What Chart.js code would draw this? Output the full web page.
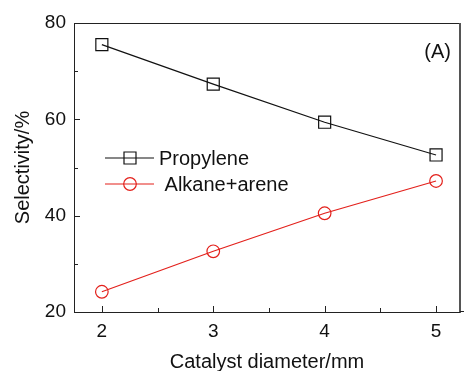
<!DOCTYPE html>
<html>
<head>
<meta charset="utf-8">
<script src="https://cdn.jsdelivr.net/npm/chart.js@4/dist/chart.umd.min.js"></script>
<style>
  html, body { margin: 0; padding: 0; background: #fff; }
  #wrap { width: 464px; height: 371px; position: relative; }
</style>
</head>
<body>
<div id="wrap"><canvas id="c" width="464" height="371"></canvas></div>
<script>
const diameters = [2, 3, 4, 5];
const propylene = [75.5, 67.3, 59.4, 52.6];
const alkaneArene = [24.2, 32.6, 40.5, 47.2];
const xTicks = [2, 3, 4, 5];
const xMinorTicks = [2.5, 3.5, 4.5];
const yTicks = [20, 40, 60, 80];
const yMinorTicks = [30, 50, 70];
const seriesNames = ['Propylene', ' Alkane+arene'];
const panelLabel = '(A)';
const xTitle = 'Catalyst diameter/mm';
const yTitle = 'Selectivity/%';

const BLACK = '#111111';
const RED = '#e3201b';
const FONT = 'Liberation Sans, Arial, sans-serif';

const framePlugin = {
  id: 'frame',
  afterDraw(chart) {
    const ctx = chart.ctx;
    const a = chart.chartArea;
    const xs = chart.scales.x, ys = chart.scales.y;
    ctx.save();
    ctx.strokeStyle = '#222';
    ctx.lineWidth = 1;
    ctx.beginPath();
    // top frame line and bottom line extension to canvas edge
    ctx.moveTo(a.left, Math.round(a.top) + 0.5);
    ctx.lineTo(a.right, Math.round(a.top) + 0.5);
    ctx.moveTo(a.right, Math.round(a.bottom) - 0.5);
    ctx.lineTo(chart.width, Math.round(a.bottom) - 0.5);
    xTicks.forEach(v => { const px = Math.round(xs.getPixelForValue(v)) + 0.5; ctx.moveTo(px, a.bottom); ctx.lineTo(px, a.bottom - 6); });
    xMinorTicks.forEach(v => { const px = Math.round(xs.getPixelForValue(v)) + 0.5; ctx.moveTo(px, a.bottom); ctx.lineTo(px, a.bottom - 4); });
    yTicks.forEach(v => { const py = Math.round(ys.getPixelForValue(v)) + 0.5; ctx.moveTo(a.left, py); ctx.lineTo(a.left + 6, py); });
    yMinorTicks.forEach(v => { const py = Math.round(ys.getPixelForValue(v)) + 0.5; ctx.moveTo(a.left, py); ctx.lineTo(a.left + 4, py); });
    ctx.stroke();
    ctx.strokeStyle = '#555';
    ctx.beginPath();
    ctx.moveTo(Math.round(a.right) - 0.5, a.top);
    ctx.lineTo(Math.round(a.right) - 0.5, a.bottom);
    ctx.stroke();

    // panel label
    ctx.fillStyle = BLACK;
    ctx.font = '20px ' + FONT;
    ctx.textAlign = 'right';
    ctx.textBaseline = 'middle';
    ctx.fillText(panelLabel, a.right - 9, a.top + 29);

    // legend
    const lx0 = a.left + 31, lx1 = a.left + 80, mx = a.left + 56;
    const rows = [
      { y: a.top + 135, color: BLACK, shape: 'rect', name: seriesNames[0] },
      { y: a.top + 161, color: RED, shape: 'circle', name: seriesNames[1] }
    ];
    ctx.textAlign = 'left';
    rows.forEach(r => {
      ctx.strokeStyle = r.color;
      ctx.lineWidth = 1.2;
      ctx.beginPath();
      ctx.moveTo(lx0, r.y); ctx.lineTo(lx1, r.y);
      ctx.stroke();
      ctx.beginPath();
      if (r.shape === 'rect') ctx.rect(mx - 6, r.y - 6, 12, 12);
      else ctx.arc(mx, r.y, 6.3, 0, Math.PI * 2);
      ctx.stroke();
      ctx.fillStyle = BLACK;
      ctx.fillText(r.name, lx1 + 5, r.y + 1);
    });
    ctx.restore();
  }
};

new Chart(document.getElementById('c'), {
  type: 'line',
  data: {
    datasets: [
      {
        label: seriesNames[0],
        data: diameters.map((d, i) => ({ x: d, y: propylene[i] })),
        borderColor: BLACK,
        borderWidth: 1.2,
        pointStyle: 'rect',
        pointRadius: 8.5,
        pointBorderWidth: 1.2,
        pointBorderColor: BLACK,
        pointBackgroundColor: 'rgba(0,0,0,0)',
        tension: 0
      },
      {
        label: seriesNames[1],
        data: diameters.map((d, i) => ({ x: d, y: alkaneArene[i] })),
        borderColor: RED,
        borderWidth: 1.2,
        pointStyle: 'circle',
        pointRadius: 6.3,
        pointBorderWidth: 1.2,
        pointBorderColor: RED,
        pointBackgroundColor: 'rgba(0,0,0,0)',
        tension: 0
      }
    ]
  },
  options: {
    responsive: false,
    animation: false,
    devicePixelRatio: 1,
    layout: { autoPadding: false, padding: { top: 23, right: 4, left: 0, bottom: 0 } },
    plugins: { legend: { display: false }, tooltip: { enabled: false } },
    scales: {
      x: {
        type: 'linear',
        min: 1.75, max: 5.215,
        afterBuildTicks: s => { s.ticks = xTicks.map(v => ({ value: v })); },
        afterFit: s => { s.height = 59; s.paddingLeft = 0; s.paddingRight = 0; },
        grid: { display: false, drawTicks: false },
        border: { display: true, color: '#222', width: 1 },
        ticks: { color: BLACK, font: { family: FONT, size: 19 }, padding: 8, maxRotation: 0 },
        title: { display: true, text: xTitle, color: BLACK, font: { family: FONT, size: 20, lineHeight: 0.9 }, padding: { top: 0, bottom: 0 } }
      },
      xTop: {
        type: 'linear',
        position: 'top',
        min: 1.75, max: 5.215,
        afterFit: s => { s.height = 0; s.paddingLeft = 0; s.paddingRight = 0; },
        grid: { display: false, drawTicks: false },
        border: { display: true, color: '#222', width: 1 },
        ticks: { display: false }
      },
      y: {
        type: 'linear',
        min: 20, max: 80,
        afterBuildTicks: s => { s.ticks = yTicks.map(v => ({ value: v })); },
        afterFit: s => { s.width = 74; s.paddingTop = 0; s.paddingBottom = 0; },
        grid: { display: false, drawTicks: false },
        border: { display: true, color: '#222', width: 1 },
        ticks: { color: BLACK, font: { family: FONT, size: 19 }, padding: 8 },
        title: { display: true, text: yTitle, color: BLACK, font: { family: FONT, size: 20, lineHeight: 1.2 }, padding: { top: 11, bottom: 0 } }
      },
      yRight: {
        type: 'linear',
        position: 'right',
        min: 20, max: 80,
        afterFit: s => { s.width = 0; s.paddingTop = 0; s.paddingBottom = 0; },
        grid: { display: false, drawTicks: false },
        border: { display: true, color: '#555', width: 1 },
        ticks: { display: false }
      }
    }
  },
  plugins: [framePlugin]
});
</script>
</body>
</html>
